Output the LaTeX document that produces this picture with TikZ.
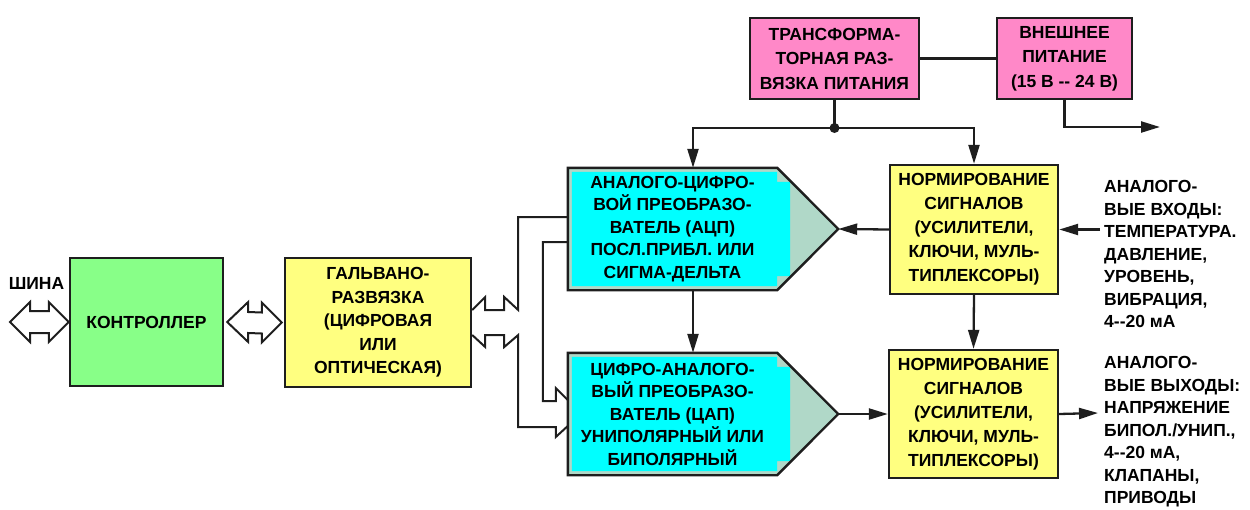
\documentclass[tikz,border=0pt]{standalone}
\usepackage{fontspec}
\setmainfont{Liberation Sans}
\usetikzlibrary{calc,arrows.meta}

\definecolor{ctrlgreen}{RGB}{136,255,136}
\definecolor{boxyellow}{RGB}{255,255,128}
\definecolor{powerpink}{RGB}{255,136,200}
\definecolor{convcyan}{RGB}{0,255,255}
\definecolor{convgrey}{RGB}{176,216,200}
\definecolor{edge}{RGB}{30,30,30}

\begin{document}
\begin{tikzpicture}[x=1pt,y=-1pt,
  txt/.style={font=\bfseries\fontsize{17.5}{#1}\selectfont, inner sep=0pt},
  txt/.default={23.5},
  blockbox/.style={draw=edge, line width=2.4pt, align=center},
  wire/.style={line width=2.3pt, draw=edge},
  arr/.style={wire, -{Triangle[length=19pt,width=11pt]}},
  bus/.style={line width=2pt, draw=edge, line join=miter},
  hollow/.style={line width=2pt, draw=edge, fill=white, line join=miter},
  sidelabel/.style={txt=22.5, align=left, anchor=west}
]
\useasboundingbox (0,0) rectangle (1250,509);

% ---- rectangular blocks ----
\node[txt, blockbox, fill=ctrlgreen, minimum width=153pt, minimum height=128pt]
  (ctrl) at (146.5,322) {КОНТРОЛЛЕР};
\node[txt, blockbox, fill=boxyellow, minimum width=186pt, minimum height=129pt]
  (galv) at (378,322.5) {ГАЛЬВАНО-\\РАЗВЯЗКА\\(ЦИФРОВАЯ\\ИЛИ\\ОПТИЧЕСКАЯ)};
\node[txt=24.5, blockbox, fill=powerpink, minimum width=169pt, minimum height=81pt]
  (trans) at (834.5,58.5) {ТРАНСФОРМА-\\ТОРНАЯ РАЗ-\\ВЯЗКА ПИТАНИЯ};
\node[txt=24.5, blockbox, fill=powerpink, minimum width=135pt, minimum height=81pt]
  (ext) at (1064.5,58.5) {ВНЕШНЕЕ\\ПИТАНИЕ\\(15 В -{}- 24 В)};
\node[txt=24, blockbox, fill=boxyellow, minimum width=168pt, minimum height=129pt]
  (norm1) at (974,229.5) {НОРМИРОВАНИЕ\\СИГНАЛОВ\\(УСИЛИТЕЛИ,\\КЛЮЧИ, МУЛЬ-\\ТИПЛЕКСОРЫ)};
\node[txt=24, blockbox, fill=boxyellow, minimum width=169pt, minimum height=128pt]
  (norm2) at (973.5,414) {НОРМИРОВАНИЕ\\СИГНАЛОВ\\(УСИЛИТЕЛИ,\\КЛЮЧИ, МУЛЬ-\\ТИПЛЕКСОРЫ)};

% ---- converter blocks: pentagon with a cyan inset ----
\node[inner sep=0pt, minimum width=209pt, minimum height=122pt] (adc) at (672.5,229) {};
\node[inner sep=0pt, minimum width=209pt, minimum height=122pt] (dac) at (672.5,414) {};
\coordinate (adctip) at ($(adc.east)+(61,0)$);
\coordinate (dactip) at ($(dac.east)+(61,0)$);

\foreach \c/\t in {adc/adctip, dac/dactip}{
  \fill[convgrey] (\c.north west) -- (\c.north east) -- (\t) -- (\c.south east)
    -- (\c.south west) -- cycle;
  \fill[convcyan] ($(\c.north west)+(4,4)$) -- ($(\c.north east)+(0,4)$) -- ++(0,10)
    -- ++(13,0) -- ($(\c.south east)+(13,-14)$) -- ++(-13,0) -- ++(0,10)
    -- ($(\c.south west)+(4,-4)$) -- cycle;
  \draw[draw=edge, line width=2.4pt, line join=miter] (\c.north west) -- (\c.north east)
    -- (\t) -- (\c.south east) -- (\c.south west) -- cycle;
}
\node[txt=22.5, align=center] (adctext) at (adc.center)
  {АНАЛОГО-ЦИФРО-\\ВОЙ ПРЕОБРАЗО-\\ВАТЕЛЬ (АЦП)\\ПОСЛ.ПРИБЛ. ИЛИ\\СИГМА-ДЕЛЬТА};
\node[txt=22.5, align=center] (dactext) at (dac.center)
  {ЦИФРО-АНАЛОГО-\\ВЫЙ ПРЕОБРАЗО-\\ВАТЕЛЬ (ЦАП)\\УНИПОЛЯРНЫЙ ИЛИ\\БИПОЛЯРНЫЙ};

% ---- free labels ----
\node[txt] (buslbl) at (36.5,283.5) {ШИНА};
\node[sidelabel] (inlbl) at (1104,254)
  {АНАЛОГО-\\ВЫЕ ВХОДЫ:\\ТЕМПЕРАТУРА.\\ДАВЛЕНИЕ,\\УРОВЕНЬ,\\ВИБРАЦИЯ,\\4-{}-20 мА};
\node[sidelabel] (outlbl) at (1104,432)
  {АНАЛОГО-\\ВЫЕ ВЫХОДЫ:\\НАПРЯЖЕНИЕ\\БИПОЛ./УНИП.,\\4-{}-20 мА,\\КЛАПАНЫ,\\ПРИВОДЫ};

% ---- end points of open connectors ----
\coordinate (busend) at (10,322);
\coordinate (jn) at (834.5,128);
\coordinate (pwrout) at (1160,127);
\coordinate (inp) at (1100,229.5);
\coordinate (outp) at (1098,413);

% ---- hollow two-way bus arrows ----
\draw[hollow] (busend) -- ++(20,-20) -- ++(0,9) -- ($(ctrl.west)+(-20,-11)$) -- ++(0,-9)
  -- (ctrl.west) -- ++(-20,20) -- ++(0,-9) -- ($(busend)+(20,11)$) -- ++(0,9) -- cycle;
\draw[hollow] ($(ctrl.east)+(3,0)$) -- ++(21,-20) -- ++(0,10) -- ($(galv.west)+(-22,-10)$)
  -- ++(0,-10) -- ($(galv.west)+(-2,0)$) -- ++(-20,20) -- ++(0,-9)
  -- ($(ctrl.east)+(24,11)$) -- ++(0,9) -- cycle;

% ---- bus lines between isolation and converters ----
\draw[bus] ($(galv.east)+(0,-12.5)$) -- ++(13,-13) -- ++(0,13) -- ++(19,0) -- ++(0,-13)
  -- ++(14,13) |- ($(adc.west)+(0,-12)$);
\draw[bus] ($(galv.east)+(0,12.5)$) -- ++(13,12) -- ++(0,-12) -- ++(19,0) -- ++(0,12)
  -- ++(14,-12) |- ($(dac.west)+(-12,13)$) -- ++(0,10) -- ($(dac.west)+(0,12)$);
\draw[bus] ($(adc.west)+(0,13)$) -- ++(-25,0) |- ($(dac.west)+(-12,-13)$) -- ++(0,-13)
  -- ($(dac.west)+(0,-14)$);

% ---- power distribution ----
\draw[wire] (trans.east) -- (ext.west);
\draw[wire] (trans.south) -- (jn);
\draw[arr] (jn) -| ([xshift=20.5pt]adc.north);
\draw[arr] (jn) -| (norm1.north);
\fill[edge] (jn) circle (5);
\draw[arr] (ext.south) |- (pwrout);

% ---- signal paths ----
\draw[arr] (inp) -- (norm1.east);
\draw[arr] (norm1.west) -- (adctip);
\draw[arr] (norm1.south) -- (norm2.north);
\draw[arr] ([xshift=20.5pt]adc.south) -- ([xshift=20.5pt]dac.north);
\draw[arr] (dactip) -- (norm2.west);
\draw[arr] (norm2.east) -- (outp);
\end{tikzpicture}
\end{document}
